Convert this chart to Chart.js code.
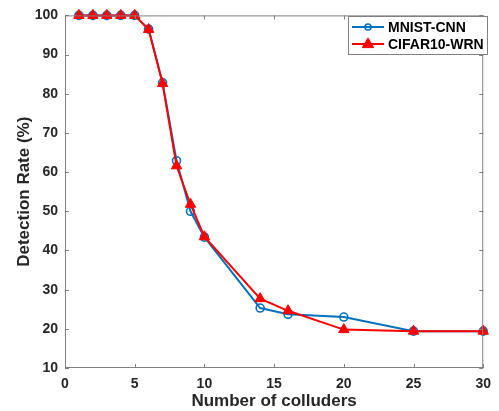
<!DOCTYPE html>
<html>
<head>
<meta charset="utf-8">
<script src="https://cdn.jsdelivr.net/npm/chart.js@4.4.1/dist/chart.umd.min.js"></script>
<style>
  html, body { margin: 0; padding: 0; background: #fff; }
  #wrap { width: 499px; height: 411px; }
</style>
</head>
<body>
<div id="wrap"><canvas id="chart" width="499" height="411"></canvas></div>
<script>
// data
const colluders = [1, 2, 3, 4, 5, 6, 7, 8, 9, 10, 14, 16, 20, 25, 30];
const mnistCnn = [100, 100, 100, 100, 100, 96.5, 82.8, 62.9, 50.0, 43.4, 25.3, 23.7, 23.0, 19.4, 19.4];
const cifarWrn = [100, 100, 100, 100, 100, 96.4, 82.6, 61.6, 51.8, 43.5, 27.7, 24.6, 19.8, 19.4, 19.4];
const xTicks = [0, 5, 10, 15, 20, 25, 30];
const yTicks = [10, 20, 30, 40, 50, 60, 70, 80, 90, 100];

const textColor = '#262626';
const axisColor = '#808080';
const fontFamily = '"Liberation Sans", Arial, sans-serif';

const toPoints = ys => ys.map((y, i) => ({ x: colluders[i], y }));

// MATLAB style box: axis frame with inward ticks on all four sides, plus legend inside
const boxPlugin = {
  id: 'boxPlugin',
  afterDatasetsDraw(chart) {
    const { ctx, chartArea: a, scales: { x, y } } = chart;
    const tl = 4;
    ctx.save();
    ctx.strokeStyle = axisColor;
    ctx.lineWidth = 1;
    ctx.strokeRect(a.left + 0.5, a.top + 0.5, a.right - a.left - 1, a.bottom - a.top - 1);
    ctx.beginPath();
    xTicks.forEach(v => {
      const px = Math.round(x.getPixelForValue(v)) + 0.5;
      ctx.moveTo(px, a.bottom); ctx.lineTo(px, a.bottom - tl);
      ctx.moveTo(px, a.top); ctx.lineTo(px, a.top + tl);
    });
    yTicks.forEach(v => {
      const py = Math.round(y.getPixelForValue(v)) + 0.5;
      ctx.moveTo(a.left, py); ctx.lineTo(a.left + tl, py);
      ctx.moveTo(a.right, py); ctx.lineTo(a.right - tl, py);
    });
    ctx.stroke();

    // legend
    const lx = 348, ly = 16, lw = 139, lh = 38;
    ctx.fillStyle = '#fff';
    ctx.fillRect(lx, ly, lw, lh);
    ctx.strokeStyle = axisColor;
    ctx.strokeRect(lx + 0.5, ly + 0.5, lw, lh);
    chart.data.datasets.forEach((ds, i) => {
      const cy = ly + 11 + i * 17;
      ctx.strokeStyle = ds.borderColor;
      ctx.lineWidth = 2;
      ctx.beginPath();
      ctx.moveTo(lx + 4, cy); ctx.lineTo(lx + 36, cy);
      ctx.stroke();
      ctx.fillStyle = ds.pointBackgroundColor;
      ctx.strokeStyle = ds.pointBorderColor;
      ctx.lineWidth = ds.pointBorderWidth;
      const mx = lx + 20;
      ctx.beginPath();
      if (ds.pointStyle === 'triangle') {
        const r = ds.pointRadius;
        ctx.moveTo(mx, cy - r);
        ctx.lineTo(mx + r * 0.95, cy + r * 0.6);
        ctx.lineTo(mx - r * 0.95, cy + r * 0.6);
        ctx.closePath();
      } else {
        ctx.arc(mx, cy, ds.pointRadius - 1, 0, Math.PI * 2);
      }
      ctx.fill();
      ctx.stroke();
      ctx.fillStyle = '#000';
      ctx.font = 'bold 14px ' + fontFamily;
      ctx.textBaseline = 'middle';
      ctx.textAlign = 'left';
      ctx.fillText(ds.label, lx + 40, cy + 1);
    });
    ctx.restore();
  }
};

new Chart(document.getElementById('chart').getContext('2d'), {
  type: 'line',
  data: {
    datasets: [{
      label: 'MNIST-CNN',
      data: toPoints(mnistCnn),
      borderColor: '#0072BD',
      borderWidth: 2,
      pointStyle: 'circle',
      pointRadius: 4,
      pointBorderWidth: 1.6,
      pointBorderColor: '#0072BD',
      pointBackgroundColor: 'rgba(255,255,255,0)',
      clip: false,
      order: 2
    }, {
      label: 'CIFAR10-WRN',
      data: toPoints(cifarWrn),
      borderColor: '#FF0000',
      borderWidth: 2,
      pointStyle: 'triangle',
      pointRadius: 6,
      pointBorderWidth: 1,
      pointBorderColor: '#FF0000',
      pointBackgroundColor: '#FF0000',
      clip: false,
      order: 1
    }]
  },
  options: {
    responsive: false,
    animation: false,
    layout: { padding: { top: 12, right: 9, left: 0, bottom: 0 } },
    plugins: { legend: { display: false }, tooltip: { enabled: false } },
    scales: {
      x: {
        type: 'linear',
        min: 0,
        max: 30,
        afterFit: s => { s.height = 43; },
        afterBuildTicks: s => { s.ticks = xTicks.map(v => ({ value: v })); },
        grid: { display: false, drawTicks: false },
        border: { display: false },
        ticks: { color: textColor, padding: 8, font: { family: fontFamily, size: 14, weight: 'bold' } },
        title: {
          display: true, text: 'Number of colluders', color: textColor, padding: 0,
          font: { family: fontFamily, size: 17, weight: 'bold', lineHeight: 1.1 }
        }
      },
      y: {
        min: 10,
        max: 100,
        afterFit: s => { s.width = 65; },
        afterBuildTicks: s => { s.ticks = yTicks.map(v => ({ value: v })); },
        grid: { display: false, drawTicks: false },
        border: { display: false },
        ticks: { color: textColor, padding: 7, font: { family: fontFamily, size: 14, weight: 'bold' } },
        title: {
          display: true, text: 'Detection Rate (%)', color: textColor, padding: { top: 14 },
          font: { family: fontFamily, size: 17, weight: 'bold', lineHeight: 1.2 }
        }
      }
    }
  },
  plugins: [boxPlugin]
});
</script>
</body>
</html>
